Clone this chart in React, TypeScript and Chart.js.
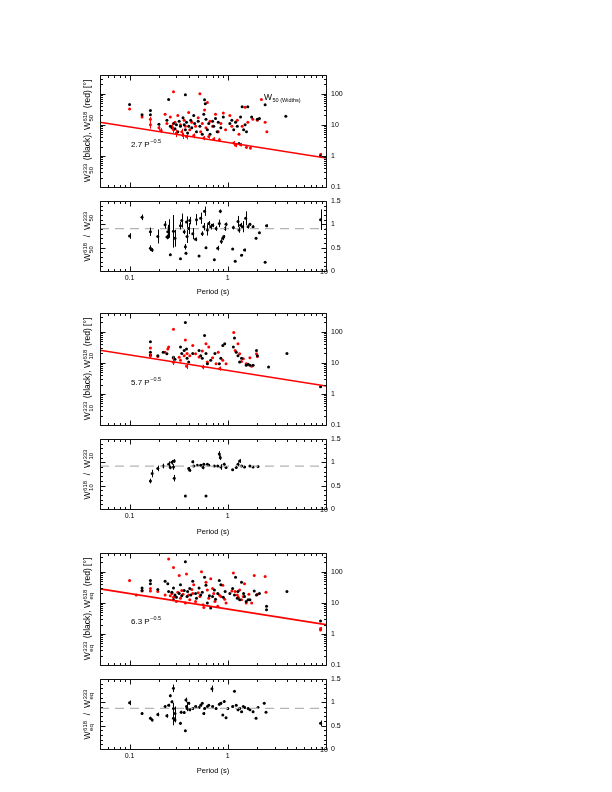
import React, { useEffect, useRef } from "react";
import { Chart, registerables } from "chart.js";

Chart.register(...registerables);

const PAGE_W = 612;
const PAGE_H = 792;
const FONT = '"Liberation Sans", Arial, Helvetica, sans-serif';

const X_MIN = 0.05;
const X_MAX = 10;
const W_MIN = 0.1;
const W_MAX = 400;
const R_MIN = 0;
const R_MAX = 1.5;

const xTickLabels = ["0.1", "1", "10"];
const wTickLabels = ["0.1", "1", "10", "100"];
const rTickLabels = ["0", "0.5", "1", "1.5"];

const widthNames = ["50", "10", "eq"];
const fitCoef = [2.7, 5.7, 6.3];
const ratioMean = [0.91, 0.92, 0.87];

// ---------- Panel 1: W50 ----------
const p1Black: [number, number][] = [
  [0.1, 45], [0.134, 21], [0.163, 29], [0.163, 21], [0.199, 10.5], [0.24, 14], [0.25, 65], [0.26, 9],
  [0.27, 8], [0.28, 11], [0.29, 7.5], [0.3, 10], [0.31, 6], [0.32, 13], [0.33, 9], [0.35, 17],
  [0.36, 10], [0.37, 92], [0.37, 7], [0.38, 12], [0.39, 5.5], [0.4, 9], [0.42, 14], [0.43, 8],
  [0.45, 20], [0.46, 11], [0.48, 6], [0.5, 13], [0.52, 9], [0.55, 5], [0.57, 22], [0.58, 64],
  [0.59, 48], [0.6, 15], [0.62, 7], [0.64, 11], [0.66, 5], [0.7, 13], [0.72, 9], [0.75, 16],
  [0.78, 6], [0.8, 12], [0.85, 8], [0.9, 18], [1.05, 11], [1.1, 14], [1.15, 7], [1.2, 12],
  [1.25, 9], [1.3, 2.5], [1.35, 18], [1.4, 38], [1.45, 7], [1.5, 10], [1.55, 6], [1.6, 38],
  [1.75, 18], [2.0, 15], [2.1, 16], [2.4, 44], [3.9, 19], [8.8, 1.0],
];
const p1Red: [number, number, number][] = [
  [0.1, 32, 0], [0.134, 18, 0], [0.163, 15, 3], [0.163, 10, 2.5], [0.199, 8, 1.5], [0.21, 6.6, 1.2],
  [0.23, 22, 0], [0.24, 11, 0], [0.26, 18, 0], [0.27, 9, 2], [0.28, 116, 0], [0.28, 7, 1.5],
  [0.29, 12, 0], [0.3, 5.5, 1.5], [0.31, 20, 0], [0.33, 10, 0], [0.34, 6, 1.5], [0.35, 4.5, 1],
  [0.36, 14, 0], [0.37, 9, 0], [0.38, 4.2, 0.8], [0.4, 25, 0], [0.41, 7, 0], [0.43, 12, 0],
  [0.45, 4.5, 0.8], [0.47, 9, 0], [0.5, 17, 0], [0.52, 100, 0], [0.53, 6, 0], [0.55, 11, 0],
  [0.57, 3.8, 0.6], [0.58, 30, 0], [0.6, 8, 0], [0.62, 52, 0], [0.64, 4.2, 0.6], [0.66, 13, 0],
  [0.7, 9, 0], [0.72, 3.5, 0.5], [0.75, 22, 0], [0.8, 6, 0], [0.82, 3.3, 0.5], [0.85, 11, 0],
  [0.9, 24, 0], [0.95, 7, 0], [1.05, 20, 0], [1.1, 9, 0], [1.15, 2.6, 0.4], [1.2, 2.2, 0.3],
  [1.25, 14, 0], [1.3, 5, 0], [1.35, 2.3, 0.3], [1.4, 9, 0], [1.5, 37, 0], [1.55, 1.9, 0.2],
  [1.6, 12, 0], [1.7, 1.8, 0.2], [1.8, 15, 0], [2.0, 14, 0], [2.2, 65, 0], [2.4, 12, 0],
  [2.5, 6, 0], [8.8, 1.1, 0.15],
];
const p1Ratio: [number, number, number][] = [
  [0.1, 0.75, 0.06], [0.134, 1.15, 0.06], [0.163, 0.84, 0.09], [0.163, 0.49, 0.06], [0.17, 0.45, 0.04],
  [0.194, 0.74, 0.15], [0.23, 0.99, 0.08], [0.24, 0.73, 0.05], [0.245, 0.84, 0.15], [0.25, 0.91, 0.2],
  [0.26, 0.35, 0.02], [0.28, 0.85, 0.35], [0.29, 0.7, 0.18], [0.33, 0.97, 0.08], [0.33, 0.26, 0.02],
  [0.34, 1.08, 0.15], [0.36, 0.84, 0.05], [0.37, 0.52, 0.06], [0.375, 0.38, 0.03], [0.38, 1.05, 0.12],
  [0.385, 0.74, 0.14], [0.4, 0.91, 0.12], [0.41, 1.08, 0.08], [0.44, 0.8, 0.12], [0.47, 0.68, 0.04],
  [0.48, 1.1, 0.12], [0.51, 0.32, 0.02], [0.53, 1.13, 0.12], [0.55, 0.8, 0.05], [0.57, 0.95, 0.08],
  [0.58, 1.28, 0.1], [0.6, 0.5, 0.02], [0.62, 0.88, 0.12], [0.64, 1.02, 0.05], [0.67, 0.95, 0.06],
  [0.7, 0.98, 0.04], [0.73, 0.24, 0.02], [0.76, 0.91, 0.05], [0.79, 0.49, 0.05], [0.82, 1.02, 0.08],
  [0.84, 1.28, 0.04], [0.86, 0.63, 0.05], [0.89, 0.7, 0.04], [0.91, 0.74, 0.03], [0.94, 0.91, 0.05],
  [0.96, 1.0, 0.04], [1.12, 0.47, 0.02], [1.14, 0.93, 0.04], [1.19, 0.21, 0.02], [1.27, 1.06, 0.12],
  [1.3, 0.88, 0.06], [1.35, 0.98, 0.05], [1.38, 0.34, 0.02], [1.42, 0.95, 0.12], [1.48, 0.45, 0.03],
  [1.52, 1.13, 0.15], [1.61, 0.95, 0.04], [1.68, 1.0, 0.03], [1.81, 0.95, 0.03], [1.94, 0.7, 0.02],
  [2.1, 0.82, 0.02], [2.4, 0.19, 0.02], [2.48, 0.97, 0.03], [8.8, 1.1, 0.22],
];

// ---------- Panel 2: W10 ----------
const p2Black: [number, number][] = [
  [0.163, 48], [0.163, 22], [0.163, 18], [0.194, 17], [0.22, 22], [0.24, 19.5], [0.28, 15], [0.29, 13],
  [0.33, 32], [0.34, 20], [0.36, 25], [0.37, 198], [0.38, 28], [0.385, 14], [0.4, 10.7], [0.44, 20],
  [0.51, 25], [0.53, 17], [0.55, 14], [0.58, 75], [0.6, 20], [0.62, 9.4], [0.67, 12], [0.74, 20],
  [0.82, 9.4], [0.85, 14], [0.89, 36], [0.93, 41], [1.14, 32], [1.17, 63], [1.22, 22], [1.27, 17],
  [1.32, 10.7], [1.38, 14], [1.54, 8.3], [1.61, 9], [1.68, 8.3], [1.81, 8.3], [1.96, 25], [2.0, 17],
  [2.6, 7.4], [4.0, 20], [8.8, 1.7],
];
const p2Red: [number, number, number][] = [
  [0.163, 30, 0], [0.163, 17, 3], [0.194, 16, 0], [0.23, 22, 0], [0.245, 28, 0], [0.25, 32, 0],
  [0.28, 14, 2.5], [0.28, 10.5, 2], [0.28, 120, 0], [0.32, 15, 0], [0.33, 12, 0], [0.36, 17, 0],
  [0.37, 54, 0], [0.38, 7.8, 1.5], [0.385, 20, 0], [0.41, 17, 0], [0.44, 36, 0], [0.47, 19.5, 0],
  [0.51, 15.3, 0], [0.55, 24, 0], [0.56, 7.4, 1.2], [0.6, 41, 0], [0.62, 10.7, 0], [0.64, 32, 0],
  [0.7, 14.5, 0], [0.76, 9.4, 0], [0.8, 22, 0], [0.83, 6.6, 1.0], [0.89, 12, 0], [0.96, 9.4, 0],
  [1.15, 95, 0], [1.19, 25, 0], [1.27, 41, 0], [1.32, 19.5, 0], [1.38, 11, 0], [1.44, 13.5, 0],
  [1.54, 9.4, 0], [1.68, 14.5, 0], [1.75, 7.7, 0], [1.96, 19.5, 0], [2.0, 16, 0],
];
const p2Ratio: [number, number, number][] = [
  [0.163, 0.6, 0.05], [0.17, 0.76, 0.08], [0.194, 0.87, 0.06], [0.22, 0.92, 0.05], [0.25, 0.96, 0.06],
  [0.26, 0.89, 0.04], [0.27, 1.0, 0.05], [0.28, 0.9, 0.06], [0.285, 1.03, 0.04], [0.285, 0.66, 0.07],
  [0.37, 0.28, 0.01], [0.4, 0.87, 0.03], [0.41, 0.83, 0.03], [0.44, 1.01, 0.03], [0.45, 0.92, 0.02],
  [0.49, 0.94, 0.02], [0.53, 0.94, 0.02], [0.56, 0.89, 0.04], [0.57, 0.96, 0.02], [0.6, 0.28, 0.01],
  [0.62, 0.96, 0.02], [0.64, 0.94, 0.02], [0.73, 0.92, 0.02], [0.79, 0.92, 0.02], [0.82, 1.18, 0.06],
  [0.84, 1.1, 0.05], [0.85, 0.9, 0.06], [0.92, 0.96, 0.03], [0.96, 0.89, 0.02], [1.12, 0.84, 0.02],
  [1.22, 0.89, 0.03], [1.27, 0.96, 0.04], [1.32, 1.03, 0.04], [1.38, 0.92, 0.02], [1.48, 0.9, 0.02],
  [1.68, 0.92, 0.02], [1.81, 0.9, 0.02], [2.03, 0.91, 0.02],
];

// ---------- Panel 3: Weq ----------
const p3Black: [number, number][] = [
  [0.134, 30], [0.134, 25], [0.163, 52], [0.163, 41], [0.194, 27], [0.23, 49], [0.245, 41], [0.25, 23],
  [0.27, 22], [0.28, 30], [0.28, 12.5], [0.29, 18], [0.3, 15], [0.32, 20], [0.33, 38], [0.34, 17],
  [0.36, 25], [0.37, 210], [0.385, 16], [0.39, 23], [0.41, 29], [0.42, 18], [0.44, 49], [0.47, 20],
  [0.48, 14], [0.51, 30], [0.53, 18], [0.55, 22], [0.58, 66], [0.6, 37], [0.62, 9.8], [0.65, 17],
  [0.67, 6.8], [0.7, 16], [0.73, 26], [0.75, 13], [0.79, 20], [0.82, 52], [0.85, 38], [0.9, 15],
  [0.94, 23], [1.05, 20], [1.12, 29], [1.17, 18], [1.2, 66], [1.25, 14], [1.27, 23], [1.32, 12.5],
  [1.38, 46], [1.45, 20], [1.48, 16], [1.54, 11], [1.61, 12.5], [1.68, 12.5], [1.86, 24], [1.96, 18],
  [2.1, 20], [2.48, 7.7], [2.48, 6], [4.0, 23], [8.8, 2.6],
];
const p3Red: [number, number, number][] = [
  [0.1, 52, 0], [0.117, 18, 0], [0.134, 24, 0], [0.163, 29, 0], [0.163, 24, 0], [0.194, 23, 0],
  [0.23, 18, 0], [0.25, 255, 0], [0.26, 17, 0], [0.27, 20, 0], [0.28, 137, 0], [0.28, 15, 0],
  [0.29, 16, 0], [0.3, 11, 0], [0.31, 22, 0], [0.32, 75, 0], [0.33, 14, 0], [0.34, 25, 0],
  [0.35, 19, 0], [0.37, 9.8, 0], [0.38, 85, 0], [0.4, 18, 0], [0.41, 12.5, 0], [0.43, 27, 0],
  [0.44, 20, 0], [0.45, 38, 0], [0.47, 11, 0], [0.5, 21, 0], [0.52, 16, 0], [0.54, 100, 0],
  [0.56, 8.7, 0], [0.57, 7.1, 0], [0.6, 46, 0], [0.62, 26, 0], [0.64, 14, 0], [0.67, 59, 0],
  [0.7, 29, 0], [0.72, 20, 0], [0.74, 11, 0], [0.79, 7.7, 0], [0.82, 18, 0], [0.85, 16, 0],
  [0.89, 37, 0], [0.93, 13, 0], [0.96, 9.8, 0], [1.1, 24, 0], [1.14, 91, 0], [1.19, 23, 0],
  [1.25, 18, 0], [1.28, 15, 0], [1.32, 26, 0], [1.38, 12.5, 0], [1.44, 16, 0], [1.48, 41, 0],
  [1.54, 9.8, 0], [1.64, 19, 0], [1.75, 9.8, 0], [1.86, 75, 0], [2.0, 19, 0], [2.4, 70, 0],
  [2.45, 22, 0], [8.8, 1.5, 0.15], [8.8, 1.34, 0],
];
const p3Ratio: [number, number, number][] = [
  [0.1, 0.99, 0.05], [0.134, 0.76, 0.03], [0.163, 0.66, 0.03], [0.17, 0.62, 0.03], [0.194, 0.74, 0.04],
  [0.23, 0.91, 0.03], [0.24, 0.71, 0.04], [0.25, 0.94, 0.03], [0.26, 1.14, 0.03], [0.27, 1.01, 0.03],
  [0.28, 1.3, 0.08], [0.28, 0.87, 0.12], [0.28, 0.66, 0.15], [0.29, 0.76, 0.15], [0.29, 0.62, 0.05],
  [0.33, 0.55, 0.03], [0.335, 0.79, 0.03], [0.36, 0.78, 0.03], [0.37, 0.39, 0.02], [0.375, 1.05, 0.05],
  [0.38, 0.91, 0.1], [0.385, 0.87, 0.03], [0.4, 0.98, 0.03], [0.41, 0.84, 0.03], [0.44, 0.87, 0.02],
  [0.47, 0.91, 0.02], [0.51, 0.89, 0.02], [0.53, 0.94, 0.03], [0.55, 0.98, 0.02], [0.57, 0.76, 0.03],
  [0.58, 0.87, 0.02], [0.62, 0.91, 0.02], [0.64, 0.94, 0.02], [0.69, 1.29, 0.07], [0.7, 0.91, 0.02],
  [0.76, 0.87, 0.02], [0.82, 0.96, 0.03], [0.85, 0.98, 0.03], [0.89, 0.73, 0.02], [0.92, 1.02, 0.03],
  [0.96, 0.67, 0.02], [1.0, 0.87, 0.02], [1.12, 0.91, 0.02], [1.17, 1.24, 0.02], [1.22, 0.94, 0.02],
  [1.27, 0.84, 0.03], [1.32, 0.87, 0.02], [1.38, 0.8, 0.02], [1.44, 0.91, 0.02], [1.48, 0.89, 0.02],
  [1.61, 0.87, 0.02], [1.68, 0.84, 0.02], [1.81, 0.8, 0.02], [1.94, 0.66, 0.02], [2.03, 0.89, 0.02],
  [2.35, 0.98, 0.02], [2.45, 0.79, 0.02], [8.8, 0.55, 0.06],
];

const mainBlack = [p1Black, p2Black, p3Black];
const mainRed = [p1Red, p2Red, p3Red];
const ratios = [p1Ratio, p2Ratio, p3Ratio];

type Area = { l: number; t: number; r: number; b: number };
const mainAreas: Area[] = [
  { l: 100, t: 75, r: 326, b: 187 },
  { l: 100, t: 313, r: 326, b: 425 },
  { l: 100, t: 553, r: 326, b: 665 },
];
const ratioAreas: Area[] = [
  { l: 100, t: 201, r: 326, b: 271 },
  { l: 100, t: 439, r: 326, b: 509 },
  { l: 100, t: 679, r: 326, b: 749 },
];

function logTicks(min: number, max: number) {
  const out: { v: number; major: boolean }[] = [];
  for (let d = Math.floor(Math.log10(min)); d <= Math.ceil(Math.log10(max)); d++) {
    for (let m = 1; m <= 9; m++) {
      const v = m * Math.pow(10, d);
      if (v >= min * 0.999 && v <= max * 1.001) out.push({ v, major: m === 1 });
    }
  }
  return out;
}

const axesPlugin = {
  id: "pgAxes",
  afterDraw(chart: any, _args: any, opts: any) {
    const { ctx, chartArea: a, scales } = chart;
    const xs = scales.x;
    const ys = scales.y;
    const L = Math.round(a.left) + 0.5;
    const R = Math.round(a.right) + 0.5;
    const T = Math.round(a.top) + 0.5;
    const B = Math.round(a.bottom) + 0.5;
    ctx.save();
    ctx.strokeStyle = "#111";
    ctx.lineWidth = 1;
    ctx.beginPath();
    ctx.rect(L, T, R - L, B - T);
    ctx.stroke();
    ctx.beginPath();
    for (const t of logTicks(X_MIN, X_MAX)) {
      const px = Math.round(xs.getPixelForValue(t.v)) + 0.5;
      const len = t.major ? 5 : 2.5;
      ctx.moveTo(px, B);
      ctx.lineTo(px, B - len);
      ctx.moveTo(px, T);
      ctx.lineTo(px, T + len);
    }
    const yTicks =
      opts.kind === "log"
        ? logTicks(W_MIN, W_MAX)
        : Array.from({ length: 16 }, (_, i) => ({ v: i / 10, major: i % 5 === 0 }));
    for (const t of yTicks) {
      const py = Math.round(ys.getPixelForValue(t.v)) + 0.5;
      const len = t.major ? 5 : 2.5;
      ctx.moveTo(L, py);
      ctx.lineTo(L + len, py);
      ctx.moveTo(R, py);
      ctx.lineTo(R - len, py);
    }
    ctx.stroke();

    ctx.fillStyle = "#000";
    ctx.font = `7px ${FONT}`;
    ctx.textAlign = "left";
    ctx.textBaseline = "middle";
    const yLabels = opts.kind === "log" ? wTickLabels : rTickLabels;
    for (const lab of yLabels) {
      ctx.fillText(lab, a.right + 5, ys.getPixelForValue(parseFloat(lab)));
    }
    if (opts.xLabels) {
      ctx.textAlign = "center";
      xTickLabels.forEach((lab, i) => {
        const v = parseFloat(lab);
        const last = i === xTickLabels.length - 1;
        const px = xs.getPixelForValue(v) - (last ? 2 : 0);
        ctx.fillText(lab, px, a.bottom + (last ? 1 : 7.5));
      });
    }
    ctx.restore();
  },
};

const errPlugin = {
  id: "errBars",
  afterDatasetsDraw(chart: any) {
    const { ctx, chartArea: a } = chart;
    const ys = chart.scales.y;
    ctx.save();
    ctx.beginPath();
    ctx.rect(a.left, a.top, a.right - a.left, a.bottom - a.top);
    ctx.clip();
    chart.data.datasets.forEach((ds: any, i: number) => {
      if (!ds.errs) return;
      const meta = chart.getDatasetMeta(i);
      ctx.strokeStyle = ds.backgroundColor;
      ctx.lineWidth = 1;
      ctx.beginPath();
      meta.data.forEach((el: any, j: number) => {
        const e = ds.errs[j];
        if (!e) return;
        const y = ds.data[j].y;
        const y1 = ys.getPixelForValue(y + e);
        const y2 = ys.getPixelForValue(Math.max(y - e, 1e-4));
        const x = Math.round(el.x) + 0.5;
        ctx.moveTo(x, y1);
        ctx.lineTo(x, y2);
      });
      ctx.stroke();
    });
    ctx.restore();
  },
};

function baseOptions(area: Area, kind: "log" | "lin", xLabels: boolean): any {
  return {
    responsive: false,
    animation: false,
    events: [],
    layout: {
      padding: { left: area.l, top: area.t, right: PAGE_W - area.r, bottom: PAGE_H - area.b },
    },
    scales: {
      x: { type: "logarithmic", min: X_MIN, max: X_MAX, display: false },
      y:
        kind === "log"
          ? { type: "logarithmic", min: W_MIN, max: W_MAX, display: false }
          : { type: "linear", min: R_MIN, max: R_MAX, display: false },
    },
    plugins: {
      legend: { display: false },
      tooltip: { enabled: false },
      pgAxes: { kind, xLabels },
    },
  };
}

function mainConfig(i: number): any {
  const coef = fitCoef[i];
  return {
    type: "scatter",
    data: {
      datasets: [
        {
          type: "line",
          data: [
            { x: X_MIN, y: coef * Math.pow(X_MIN, -0.5) },
            { x: X_MAX, y: coef * Math.pow(X_MAX, -0.5) },
          ],
          borderColor: "#ff0000",
          borderWidth: 1.6,
          pointRadius: 0,
          fill: false,
        },
        {
          data: mainBlack[i].map(([x, y]) => ({ x, y })),
          backgroundColor: "#000000",
          borderWidth: 0,
          pointRadius: 1.5,
        },
        {
          data: mainRed[i].map(([x, y]) => ({ x, y })),
          errs: mainRed[i].map((d) => d[2]),
          backgroundColor: "#ff0000",
          borderWidth: 0,
          pointRadius: 1.5,
        },
      ],
    },
    options: baseOptions(mainAreas[i], "log", false),
    plugins: [errPlugin, axesPlugin],
  };
}

function ratioConfig(i: number): any {
  return {
    type: "scatter",
    data: {
      datasets: [
        {
          type: "line",
          data: [
            { x: X_MIN, y: ratioMean[i] },
            { x: X_MAX, y: ratioMean[i] },
          ],
          borderColor: "#b4b4b4",
          borderWidth: 1.2,
          borderDash: [9, 6],
          pointRadius: 0,
          fill: false,
        },
        {
          data: ratios[i].map(([x, y]) => ({ x, y })),
          errs: ratios[i].map((d) => d[2]),
          backgroundColor: "#000000",
          borderWidth: 0,
          pointRadius: 1.5,
        },
      ],
    },
    options: baseOptions(ratioAreas[i], "lin", true),
    plugins: [errPlugin, axesPlugin],
  };
}

function ChartCanvas({ make }: { make: () => any }) {
  const ref = useRef<HTMLCanvasElement | null>(null);
  useEffect(() => {
    if (!ref.current) return;
    const c = new Chart(ref.current, make());
    return () => c.destroy();
  }, []);
  return (
    <canvas
      ref={ref}
      width={PAGE_W}
      height={PAGE_H}
      style={{ position: "absolute", left: 0, top: 0, width: PAGE_W, height: PAGE_H }}
    />
  );
}

function SS({ sub, sup }: { sub: string; sup: string }) {
  return (
    <span
      style={{
        display: "inline-flex",
        flexDirection: "column",
        verticalAlign: "middle",
        fontSize: 6,
        lineHeight: "6px",
        margin: "0 1px 0 0.5px",
      }}
    >
      <span>{sup}</span>
      <span>{sub}</span>
    </span>
  );
}

function Rot({ cx, cy, children }: { cx: number; cy: number; children: React.ReactNode }) {
  return (
    <div
      style={{
        position: "absolute",
        left: cx,
        top: cy,
        transform: "translate(-50%, -50%) rotate(-90deg)",
        whiteSpace: "nowrap",
        fontFamily: FONT,
        fontSize: 8.5,
        lineHeight: "12px",
        color: "#000",
      }}
    >
      {children}
    </div>
  );
}

function Txt({ x, y, size, children, center }: { x: number; y: number; size: number; children: React.ReactNode; center?: boolean }) {
  return (
    <div
      style={{
        position: "absolute",
        left: x,
        top: y,
        transform: center ? "translate(-50%, -50%)" : "translate(0, -50%)",
        whiteSpace: "nowrap",
        fontFamily: FONT,
        fontSize: size,
        lineHeight: "12px",
        color: "#000",
      }}
    >
      {children}
    </div>
  );
}

export default function App() {
  const periodY = [292, 532, 771];
  const annY = [143, 381, 620];
  return (
    <div
      style={{
        position: "absolute",
        left: 0,
        top: 0,
        width: PAGE_W,
        height: PAGE_H,
        background: "#fff",
        overflow: "hidden",
      }}
    >
      {[0, 1, 2].map((i) => (
        <React.Fragment key={i}>
          <ChartCanvas make={() => mainConfig(i)} />
          <ChartCanvas make={() => ratioConfig(i)} />
          <Rot cx={87} cy={(mainAreas[i].t + mainAreas[i].b) / 2}>
            W<SS sub={widthNames[i]} sup="333" /> (black), W<SS sub={widthNames[i]} sup="618" /> (red) [°]
          </Rot>
          <Rot cx={87} cy={(ratioAreas[i].t + ratioAreas[i].b) / 2}>
            W<SS sub={widthNames[i]} sup="618" /> &nbsp;/&nbsp; W<SS sub={widthNames[i]} sup="333" />
          </Rot>
          <Txt x={131} y={annY[i]} size={8}>
            {fitCoef[i].toFixed(1)} P
            <sup style={{ fontSize: 5.5, verticalAlign: "4px", marginLeft: 0.5 }}>−0.5</sup>
          </Txt>
          <Txt x={213} y={periodY[i]} size={7.5} center>
            Period (s)
          </Txt>
        </React.Fragment>
      ))}
      <Txt x={264} y={98} size={8.5}>
        W<sub style={{ fontSize: 5.5, verticalAlign: "-2px", marginLeft: 0.5 }}>50 (Widths)</sub>
      </Txt>
    </div>
  );
}
